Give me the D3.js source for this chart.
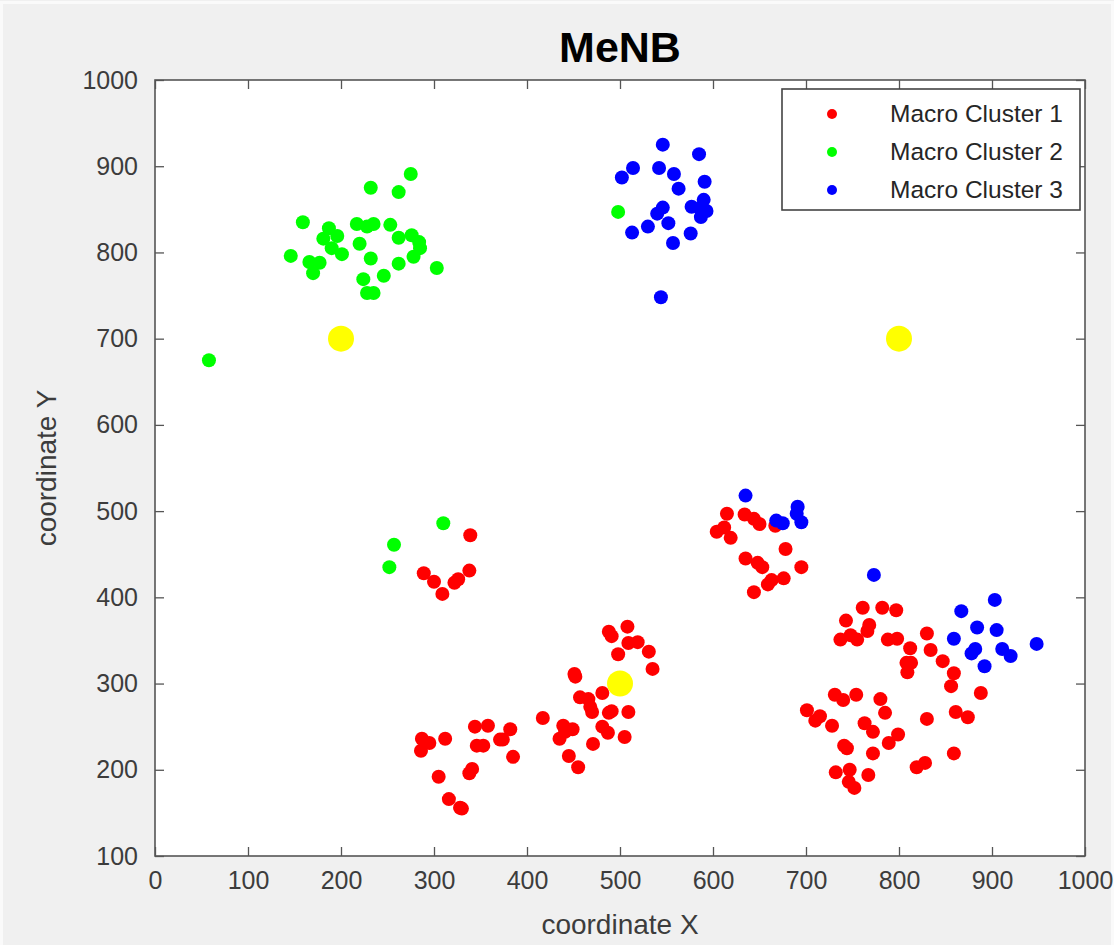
<!DOCTYPE html>
<html>
<head>
<meta charset="utf-8">
<script src="https://cdn.jsdelivr.net/npm/d3@7"></script>
<style>
  body { margin: 0; background: #f0f0f0; }
  svg { display: block; font-family: "Liberation Sans", Arial, sans-serif; }
  .tick-lbl { fill: #3c3c3c; font-size: 25px; }
  .ax-title { fill: #3c3c3c; font-size: 28px; }
</style>
</head>
<body>
<div id="chart"></div>
<script>
"use strict";

// точки по кластерам, [x, y]
var cluster1 = [
  [339,472],[289,428],[300,418],[309,404],[322,417],[326,421],[338,431],
  [488,360],[491,355],[508,366],[509,347],[519,348],[531,337],[498,334],[535,317],
  [451,311],[452,308],[481,289],[457,284],[466,282],[468,273],[470,267],[488,266],
  [491,268],[509,267],[417,260],[439,251],[449,247],[441,244],[435,236],[481,250],
  [487,243],[471,230],[505,238],[445,216],[455,203],
  [344,250],[358,251],[382,247],[371,235],[374,235],[346,228],[353,228],[385,215],
  [312,236],[287,236],[295,231],[286,222],[338,196],[341,201],[305,192],[316,166],
  [328,156],[330,155],
  [615,497],[634,496],[644,491],[650,485],[667,483],[604,476],[612,481],[619,469],
  [678,456],[635,445],[648,440],[653,435],[695,435],[676,422],[663,420],[659,415],[644,406],
  [761,388],[782,388],[797,385],[743,373],[768,368],[766,361],[737,351],[748,356],
  [755,351],[788,351],[798,352],[830,358],[812,341],[834,339],[808,324],[813,324],
  [809,313],[847,326],[859,312],[856,297],[888,289],[731,287],[740,281],[754,287],
  [780,282],[785,266],[701,269],[715,262],[710,257],[728,251],[763,254],[772,244],
  [830,259],[861,267],[874,261],[799,241],[789,231],[741,228],[744,225],[772,219],
  [859,219],[828,208],[819,203],[732,197],[747,200],[767,194],[746,186],[752,179]
];
var cluster2 = [
  [275,891],[232,875],[262,870],[159,835],[187,828],[196,819],[181,816],[190,805],
  [201,798],[217,833],[228,830],[235,833],[253,832],[220,810],[232,793],[262,817],
  [276,820],[284,812],[285,805],[278,795],[262,787],[246,773],[224,769],[228,753],
  [235,753],[146,796],[166,789],[177,788],[170,776],[303,782],[58,675],[498,847],
  [310,486],[257,461],[252,435]
];
var cluster3 = [
  [546,925],[585,914],[514,898],[502,887],[542,898],[558,891],[591,882],[563,874],
  [590,861],[577,853],[586,851],[593,848],[587,841],[546,852],[540,845],[552,834],
  [530,830],[513,823],[576,822],[557,811],[544,748],
  [635,518],[668,489],[675,486],[691,505],[690,497],[695,487],
  [773,426],[903,397],[867,384],[884,365],[905,362],[859,352],[882,340],[878,335],
  [911,340],[920,332],[948,346],[892,320]
];
var centroids = [[200,700],[800,700],[500,300]];

var seriesNames = ['Macro Cluster 1', 'Macro Cluster 2', 'Macro Cluster 3'];
var seriesColors = ['#ff0000', '#00ff00', '#0000ff'];
var xTicks = [0,100,200,300,400,500,600,700,800,900,1000];
var yTicks = [100,200,300,400,500,600,700,800,900,1000];
var chartTitle = 'MeNB';

var width = 1114, height = 945;
var plotLeft = 155, plotRight = 1085, plotTop = 80, plotBottom = 856;

var svg = d3.select('#chart').append('svg')
  .attr('width', width)
  .attr('height', height);

svg.append('rect')
  .attr('x', 1.5).attr('y', 2.5)
  .attr('width', width - 3).attr('height', height)
  .attr('fill', '#f0f0f0')
  .attr('stroke', '#fafafa')
  .attr('stroke-width', 3);

var scaleX = d3.scaleLinear().domain([0, 1000]).range([plotLeft, plotRight]);
var scaleY = d3.scaleLinear().domain([100, 1000]).range([plotBottom, plotTop]);

// белое поле графика
svg.append('rect')
  .attr('x', plotLeft).attr('y', plotTop)
  .attr('width', plotRight - plotLeft).attr('height', plotBottom - plotTop)
  .attr('fill', '#fff');

// точки
var allSeries = [cluster1, cluster2, cluster3];
allSeries.forEach(function(data, i) {
  svg.append('g')
    .selectAll('circle')
    .data(data)
    .enter().append('circle')
      .attr('cx', function(d) { return scaleX(d[0]); })
      .attr('cy', function(d) { return scaleY(d[1]); })
      .attr('r', 7)
      .attr('fill', seriesColors[i]);
});

svg.append('g')
  .selectAll('circle')
  .data(centroids)
  .enter().append('circle')
    .attr('cx', function(d) { return scaleX(d[0]); })
    .attr('cy', function(d) { return scaleY(d[1]); })
    .attr('r', 13)
    .attr('fill', '#ffff00');

// оси
var tickLen = 9;
var axisColor = '#555';
var fmt = d3.format('d');

var xAxisB = d3.axisBottom(scaleX).tickValues(xTicks).tickFormat(fmt).tickSizeInner(-tickLen).tickSizeOuter(0).tickPadding(15);
var xAxisT = d3.axisTop(scaleX).tickValues(xTicks).tickSizeInner(-tickLen).tickSizeOuter(0).tickFormat('');
var yAxisL = d3.axisLeft(scaleY).tickValues(yTicks).tickFormat(fmt).tickSizeInner(-tickLen).tickSizeOuter(0).tickPadding(17);
var yAxisR = d3.axisRight(scaleY).tickValues(yTicks).tickSizeInner(-tickLen).tickSizeOuter(0).tickFormat('');

function styleAxis(g) {
  g.select('.domain').remove();
  g.selectAll('.tick line').attr('stroke', axisColor).attr('stroke-width', 1.3);
  g.selectAll('.tick text')
    .attr('class', 'tick-lbl')
    .attr('font-family', null)
    .attr('font-size', null)
    .attr('fill', null);
}

svg.append('g').attr('transform', 'translate(0,' + plotBottom + ')').call(xAxisB).call(styleAxis);
svg.append('g').attr('transform', 'translate(0,' + plotTop + ')').call(xAxisT).call(styleAxis);
svg.append('g').attr('transform', 'translate(' + plotLeft + ',0)').call(yAxisL).call(styleAxis);
svg.append('g').attr('transform', 'translate(' + plotRight + ',0)').call(yAxisR).call(styleAxis);

svg.append('rect')
  .attr('x', plotLeft).attr('y', plotTop)
  .attr('width', plotRight - plotLeft).attr('height', plotBottom - plotTop)
  .attr('fill', 'none')
  .attr('stroke', axisColor)
  .attr('stroke-width', 1.6);

// подписи
svg.append('text')
  .attr('x', (plotLeft + plotRight) / 2).attr('y', 62)
  .attr('text-anchor', 'middle')
  .attr('font-size', 43)
  .attr('font-weight', 'bold')
  .attr('fill', '#000')
  .text(chartTitle);

svg.append('text')
  .attr('class', 'ax-title')
  .attr('x', (plotLeft + plotRight) / 2).attr('y', 934)
  .attr('text-anchor', 'middle')
  .text('coordinate X');

svg.append('text')
  .attr('class', 'ax-title')
  .attr('transform', 'translate(56,' + (plotTop + plotBottom) / 2 + ') rotate(-90)')
  .attr('text-anchor', 'middle')
  .text('coordinate Y');

// легенда
var legend = svg.append('g').attr('transform', 'translate(782,89)');
legend.append('rect')
  .attr('width', 298).attr('height', 121)
  .attr('fill', '#fff')
  .attr('stroke', '#444')
  .attr('stroke-width', 1.6);

seriesNames.forEach(function(name, i) {
  var row = legend.append('g').attr('transform', 'translate(0,' + (25 + i * 38) + ')');
  row.append('circle')
    .attr('cx', 50).attr('cy', 0).attr('r', 5)
    .attr('fill', seriesColors[i]);
  row.append('text')
    .attr('x', 108).attr('y', 8)
    .attr('font-size', 24.5)
    .attr('fill', '#262626')
    .text(name);
});
</script>
</body>
</html>
